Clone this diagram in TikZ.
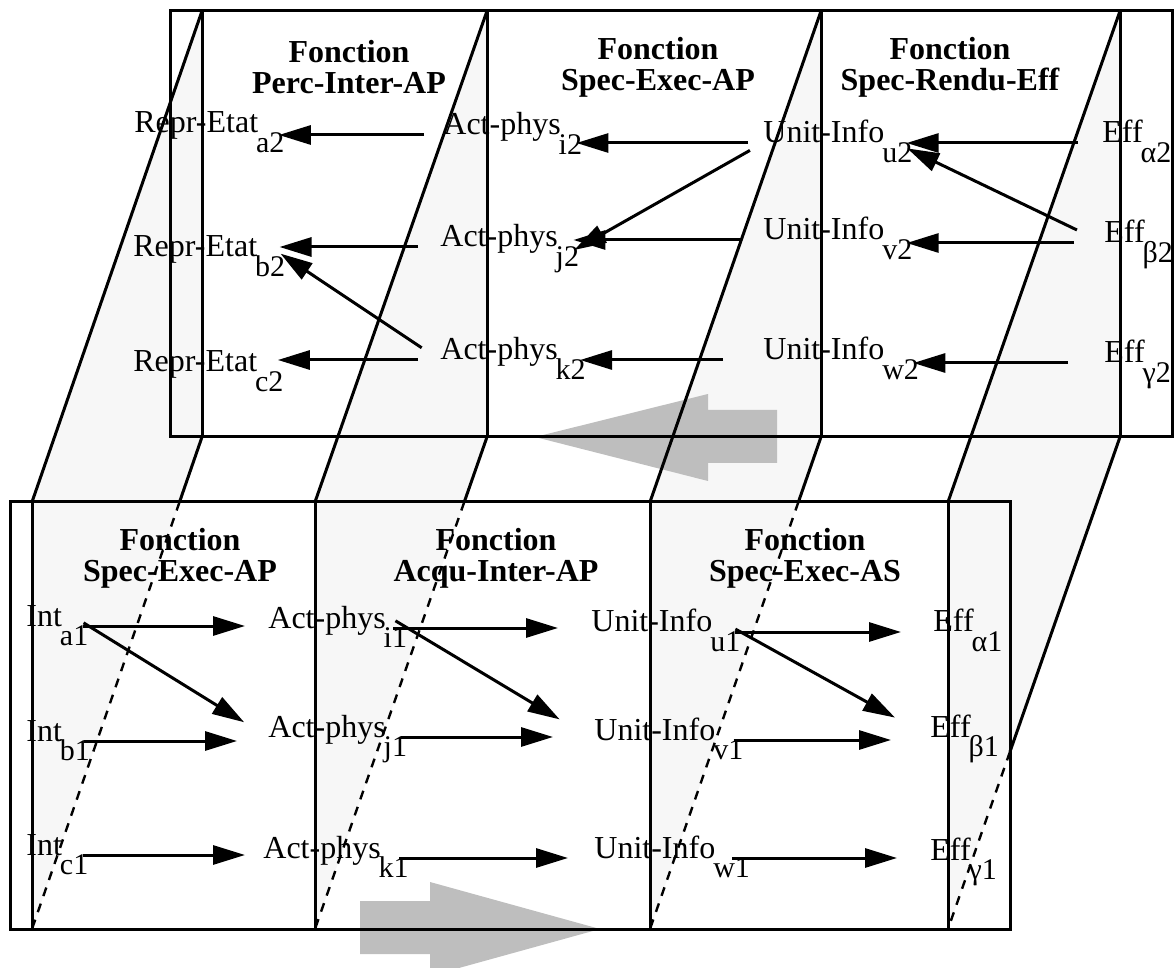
\documentclass[tikz,border=0pt]{standalone}
\usepackage{fontspec}
\setmainfont{Liberation Serif}
\usetikzlibrary{arrows.meta,calc}
\definecolor{sheetgray}{HTML}{F7F7F7}
\definecolor{flowgray}{HTML}{BEBEBE}
% lowered index, nearly full size
\newcommand{\lsub}[1]{\kern-1pt\raisebox{-0.62em}{\fontsize{15}{17}\selectfont #1}}

\begin{document}
\begin{tikzpicture}[x=0.5pt,y=-0.5pt,
    frame/.style={line width=1.5pt},
    hidden/.style={line width=1.2pt, dash pattern=on 4.5pt off 4pt},
    lbl/.style={anchor=base west, inner sep=0pt, text height=0.5em, text depth=0.5em,
                font=\fontsize{16}{18}\selectfont},
    title/.style={align=center, inner sep=0pt, font=\fontsize{16}{15.5}\selectfont\bfseries},
    arr/.style={-{Triangle[length=16pt,width=9.5pt]}, line width=1.5pt},
    back/.style={arr, shorten <=11pt, shorten >=-3pt},
    fwd/.style={arr, shorten <=-3pt, shorten >=15pt}]
    \useasboundingbox (0,0) rectangle (1174,968);

    % Sheets joining the two layers
    \foreach \xt/\xb in {202/32, 487/315, 821/650, 1120/948}
        \fill[sheetgray] (\xt,11) -- (\xt,437) -- (\xb,929) -- (\xb,502) -- cycle;

    % Flow arrows
    \fill[flowgray] (535,437) -- (708,394) -- (708,410) -- (777,410) -- (777,463)
        -- (708,463) -- (708,481) -- cycle;
    \fill[flowgray] (600,929) -- (430,882) -- (430,901) -- (360,901) -- (360,954)
        -- (430,954) -- (430,976) -- cycle;

    % Frames of both layers
    \draw[frame] (170,11) rectangle (1172,437);
    \draw[frame] (10,502) rectangle (1010,929);
    \foreach \xt/\xb/\f in {202/32/0.132, 487/315/0.132, 821/650/0.132, 1120/948/0.64} {
        \draw[frame] (\xt,11) -- (\xt,437);
        \draw[frame] (\xb,502) -- (\xb,929);
        \draw[frame] (\xt,11) -- (\xb,502);
        \draw[frame] (\xt,437) -- ($(\xt,437)!\f!(\xb,929)$) coordinate (m);
        \draw[hidden] (m) -- (\xb,929);
    }

    % Upper layer
    \node[title] (tp) at (349,67) {Fonction\\Perc-Inter-AP};
    \node[title] (ts) at (658,67) {Fonction\\Spec-Exec-AP};
    \node[title] (tr) at (950,67) {Fonction\\Spec-Rendu-Eff};

    \node[lbl] (ra) at (134,133) {Repr-Etat\lsub{a2}};
    \node[lbl] (rb) at (133,257) {Repr-Etat\lsub{b2}};
    \node[lbl] (rc) at (133,372) {Repr-Etat\lsub{c2}};
    \node[lbl] (ai) at (443,135) {Act-phys\lsub{i2}};
    \node[lbl] (aj) at (440,247) {Act-phys\lsub{j2}};
    \node[lbl] (ak) at (440,360) {Act-phys\lsub{k2}};
    \node[lbl] (ua) at (763,143) {Unit-Info\lsub{u2}};
    \node[lbl] (ub) at (763,240) {Unit-Info\lsub{v2}};
    \node[lbl] (uc) at (763,360) {Unit-Info\lsub{w2}};
    \node[lbl] (ea) at (1102,143) {Eff\lsub{α2}};
    \node[lbl] (eb) at (1104,243) {Eff\lsub{β2}};
    \node[lbl] (ec) at (1104,363) {Eff\lsub{γ2}};

    \draw[back, shorten <=9.5pt] (ai.west) -- (ai.west -| ra.east);
    \draw[back] (aj.west) -- (aj.west -| rb.east);
    \draw[back] (ak.west) -- (ak.west -| rc.east);
    \draw[back] (ak.west) -- (rb.east);
    \draw[back, shorten <=7.5pt] (ua.west) -- (ua.west -| ai.east);
    \draw[back, shorten <=7.5pt] (ua.west) -- (aj.east);
    \draw[back] (ub.west) -- (ub.west -| aj.east);
    \draw[back, shorten <=20pt] (uc.west) -- (uc.west -| ak.east);
    \draw[back, shorten <=12pt] (ea.west) -- (ea.west -| ua.east);
    \draw[back, shorten <=15pt] (eb.west) -- (eb.west -| ub.east);
    \draw[back, shorten <=15pt] (eb.west) -- ([yshift=-4pt]ua.east);
    \draw[back, shorten <=18pt] (ec.west) -- (ec.west -| uc.east);

    % Lower layer
    \node[title] (bs) at (180,558) {Fonction\\Spec-Exec-AP};
    \node[title] (ba) at (496,558) {Fonction\\Acqu-Inter-AP};
    \node[title] (bx) at (805,558) {Fonction\\Spec-Exec-AS};

    \node[lbl] (ia) at (26,626) {Int\lsub{a1}};
    \node[lbl] (ib) at (26,741) {Int\lsub{b1}};
    \node[lbl] (ic) at (26,855) {Int\lsub{c1}};
    \node[lbl] (bi) at (268,628) {Act-phys\lsub{i1}};
    \node[lbl] (bj) at (268,737) {Act-phys\lsub{j1}};
    \node[lbl] (bk) at (263,858) {Act-phys\lsub{k1}};
    \node[lbl] (bu) at (591,632) {Unit-Info\lsub{u1}};
    \node[lbl] (bv) at (594,740) {Unit-Info\lsub{v1}};
    \node[lbl] (bw) at (594,858) {Unit-Info\lsub{w1}};
    \node[lbl] (fa) at (933,632) {Eff\lsub{α1}};
    \node[lbl] (fb) at (930,737) {Eff\lsub{β1}};
    \node[lbl] (fc) at (930,860) {Eff\lsub{γ1}};

    \draw[fwd, shorten >=11.5pt] (ia.east) -- (ia.east -| bi.west);
    \draw[fwd, shorten >=14pt] (ia.east) -- (bj.west);
    \draw[fwd, shorten >=15.5pt] (ib.east) -- (ib.east -| bj.west);
    \draw[fwd, shorten >=9pt] (ic.east) -- (ic.east -| bk.west);
    \draw[fwd, shorten <=-7pt, shorten >=16.5pt] (bi.east) -- (bi.east -| bu.west);
    \draw[fwd, shorten <=-7pt, shorten >=20pt] (bi.east) -- (bv.west);
    \draw[fwd, shorten >=20.5pt] (bj.east) -- (bj.east -| bv.west);
    \draw[fwd, shorten <=-5pt, shorten >=13pt] (bk.east) -- (bk.east -| bw.west);
    \draw[fwd, shorten >=16pt] (bu.east) -- (bu.east -| fa.west);
    \draw[fwd, shorten >=20pt] (bu.east) -- (fb.west);
    \draw[fwd, shorten <=-5pt, shorten >=19.5pt] (bv.east) -- (bv.east -| fb.west);
    \draw[fwd, shorten <=-9pt, shorten >=16.5pt] (bw.east) -- (bw.east -| fc.west);
\end{tikzpicture}
\end{document}
